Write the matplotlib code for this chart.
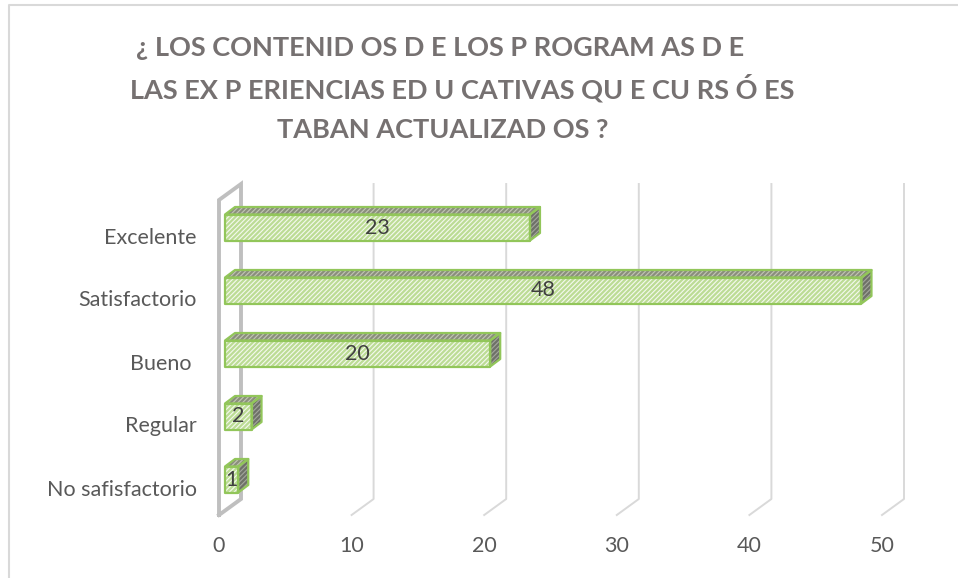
import matplotlib.pyplot as plt
from matplotlib.patches import Polygon
from matplotlib.lines import Line2D
import matplotlib.transforms as mtransforms

# datos del grafico
categorias = ['No safisfactorio', 'Regular', 'Bueno ', 'Satisfactorio', 'Excelente']
valores = [1, 2, 20, 48, 23]
ticks_x = [0, 10, 20, 30, 40, 50]
titulo = ['¿ LOS CONTENID OS D E LOS P ROGRAM AS D E',
          'LAS EX P ERIENCIAS ED U CATIVAS QU E CU RS Ó ES',
          'TABAN ACTUALIZAD OS ?']

plt.rcParams['font.family'] = ['Lato', 'DejaVu Sans']
plt.rcParams['hatch.linewidth'] = 1.6
W, H = 958, 578
fig = plt.figure(figsize=(W / 100, H / 100), dpi=100)

# plano frontal del grafico en pixeles
x0, x1, yb, yt = 219, 882, 515, 200
ax = fig.add_axes([x0 / W, (H - yb) / H, (x1 - x0) / W, (yb - yt) / H])
ax.set_xlim(0, 50)
ax.set_ylim(-0.5, len(categorias) - 0.5)
for s in ax.spines.values():
    s.set_visible(False)

ux = 50 / (x1 - x0)          # unidades por pixel en x
uy = len(categorias) / (yb - yt)  # unidades por pixel en y
DX, DY = 22 * ux, 16 * uy    # profundidad del fondo

# pared y lineas de division (3D simulado)
for v in ticks_x:
    if v == 0:
        ax.plot([0, 0, DX, DX, 0], [-0.5, 4.5, 4.5 + DY, -0.5 + DY, -0.5],
                clip_on=False, zorder=1, solid_joinstyle='miter',
                color='#bfbfbf', lw=2.8)
    else:
        kw = dict(color='#d9d9d9', lw=1.4)
        ax.plot([v, v + DX, v + DX], [-0.5, -0.5 + DY, 4.5 + DY],
                clip_on=False, zorder=1, **kw)

# barras
ox, oy = 6 * ux, 4 * uy       # desplazamiento de la cara frontal
bx, by = 10 * ux, 7.5 * uy    # profundidad de la barra
h = 26 * uy
verde = '#92c65a'
for i, v in enumerate(valores):
    xa, xb = ox, ox + v
    ya, yb_ = i + oy - h / 2, i + oy + h / 2
    front = [(xa, ya), (xb, ya), (xb, yb_), (xa, yb_)]
    top = [(xa, yb_), (xb, yb_), (xb + bx, yb_ + by), (xa + bx, yb_ + by)]
    side = [(xb, ya), (xb + bx, ya + by), (xb + bx, yb_ + by), (xb, yb_)]
    for pts, fc, hc in [(front, '#f4f9ee', '#bcdc95'),
                        (top, '#c2c6b4', '#8a8f7c'),
                        (side, '#a3a69c', '#6e7168')]:
        ax.add_patch(Polygon(pts, closed=True, facecolor=fc, edgecolor=hc,
                             hatch='/' * 7, lw=0, zorder=3, clip_on=False))
        ax.add_patch(Polygon(pts, closed=True, facecolor='none', edgecolor=verde,
                             lw=1.6, zorder=4, clip_on=False, joinstyle='round'))
    ax.text(ox + v / 2, i + oy, str(v), ha='center', va='center',
            fontsize=15.5, color='#404040', zorder=5)

ax.set_xticks(ticks_x)
ax.set_yticks(range(len(categorias)))
ax.set_yticklabels(categorias)
ax.tick_params(axis='both', length=0, labelsize=15.5, labelcolor='#595959')
ax.tick_params(axis='x', pad=15)
ax.tick_params(axis='y', pad=16)
desp = mtransforms.ScaledTranslation(0, -4 / 100, fig.dpi_scale_trans)
for lab in ax.get_yticklabels():
    lab.set_transform(lab.get_transform() + desp)

# titulo
pos = [(440, 48), (462, 88), (443, 130)]
for linea, (px, py) in zip(titulo, pos):
    fig.text(px / W, 1 - py / H, linea, ha='center', va='center',
             fontsize=19.5, fontweight='bold', color='#767171')

# borde del area del grafico
fig.add_artist(Line2D([9 / W, 9 / W, 1], [0, 1 - 5 / H, 1 - 5 / H],
                      transform=fig.transFigure, color='#d9d9d9', lw=1.5))

fig.savefig('out.png', dpi=100)
